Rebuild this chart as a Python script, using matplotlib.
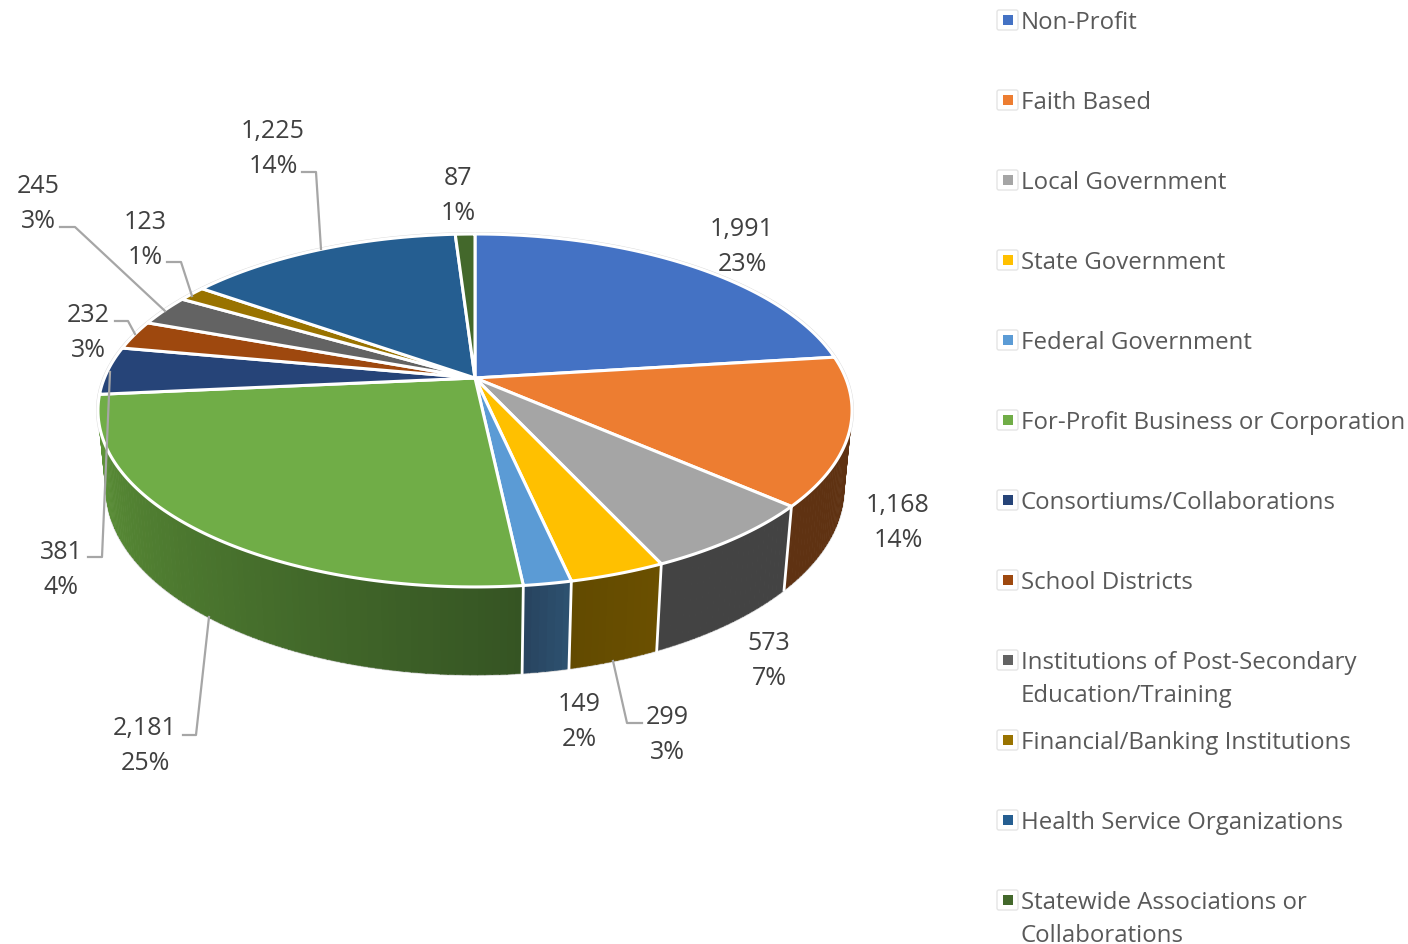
import numpy as np
import matplotlib
matplotlib.use("Agg")
import matplotlib.pyplot as plt
from matplotlib.patches import FancyBboxPatch, Rectangle

categories = ["Non-Profit", "Faith Based", "Local Government", "State Government",
              "Federal Government", "For-Profit Business or Corporation",
              "Consortiums/Collaborations", "School Districts",
              "Institutions of Post-Secondary\nEducation/Training",
              "Financial/Banking Institutions", "Health Service Organizations",
              "Statewide Associations or\nCollaborations"]
values = [1991, 1168, 573, 299, 149, 2181, 381, 232, 245, 123, 1225, 87]
percents = [23, 14, 7, 3, 2, 25, 4, 3, 3, 1, 14, 1]

top_colors = ["#4472C4", "#ED7D31", "#A5A5A5", "#FFC000", "#5B9BD5", "#70AD47",
              "#264478", "#9E480E", "#636363", "#997300", "#255E91", "#43682B"]
wall_colors = {1: ("#5F3212", "#5F3212"), 2: ("#434343", "#434343"),
               3: ("#6B5000", "#624A00"), 4: ("#2E5270", "#27435F"),
               5: ("#355423", "#5F9639")}

# label centres and leader lines, in pixels
label_pos = [(742, 247), (898, 523), (769, 661), (667, 735), (579, 722), (145, 746),
             (61, 570), (88, 333), (38, 204), (145, 240), (273, 149), (458, 196)]
leaders = [[(209, 618), (196, 736), (183, 736)],
           [(110, 373), (102, 558), (88, 558)],
           [(135, 335), (128, 322), (115, 322)],
           [(165, 312), (75, 228), (60, 228)],
           [(192, 297), (181, 263), (167, 263)],
           [(321, 250), (316, 173), (302, 173)],
           [(613, 662), (627, 724), (642, 724)]]

# perspective of the pie, fitted to the picture
cx, cy = 475, 379
a, b, k = 370.6, 170.5, 0.184
depth_y, depth_w = 78, 0.021


def project(theta, z=0.0):
    u, v = np.sin(theta), np.cos(theta)
    w = 1 + k * v + depth_w * z
    return cx + a * u / w, cy - (b * v - depth_y * z) / w


fig = plt.figure(figsize=(14.08, 9.45), dpi=100)
ax = fig.add_axes([0, 0, 1, 1])
ax.set_xlim(0, 1408)
ax.set_ylim(945, 0)
ax.axis("off")
plt.rcParams["font.family"] = ["Open Sans", "DejaVu Sans"]

edges = np.cumsum([0] + values) / sum(values) * 2 * np.pi

# thin halo round the disc and the wall
ring = np.linspace(0, 2 * np.pi, 400)
ax.plot(*project(ring), color="#D9D9D9", lw=2.8, zorder=1)
front = np.linspace(edges[1], edges[6], 300)
ax.plot(*project(front, 1), color="#D9D9D9", lw=1.6, zorder=1)

# walls, shaded along the arc
for i, (c_a, c_b) in wall_colors.items():
    n = max(int((edges[i + 1] - edges[i]) * 60), 2)
    t = np.linspace(edges[i], edges[i + 1], n + 1)
    c0 = np.array(matplotlib.colors.to_rgb(c_a))
    c1 = np.array(matplotlib.colors.to_rgb(c_b))
    for j in range(n):
        tt = np.linspace(t[j], t[j + 1] + 0.002, 4)
        xt, yt = project(tt)
        xb, yb = project(tt[::-1], 1)
        col = c0 + (c1 - c0) * (j + 0.5) / n
        ax.fill(np.r_[xt, xb], np.r_[yt, yb], color=col, lw=0.4, zorder=2)
for i in range(2, 6):
    x0, y0 = project(edges[i])
    x1, y1 = project(edges[i], 1)
    ax.plot([x0, x1], [y0, y1], color="white", lw=2.0, zorder=3)

# top face
for i in range(len(values)):
    t = np.linspace(edges[i], edges[i + 1], 120)
    x, y = project(t)
    ax.fill(np.r_[cx, x], np.r_[cy, y], facecolor=top_colors[i], edgecolor="white",
            lw=2.2, joinstyle="round", zorder=4)

for path in leaders:
    xs, ys = zip(*path)
    ax.plot(xs, ys, color="#A6A6A6", lw=1.6, zorder=5)

for (x, y), v, p in zip(label_pos, values, percents):
    ax.text(x, y, f"{v:,}\n{p}%", ha="center", va="center", fontsize=18,
            color="#404040", linespacing=1.5, zorder=6)

# legend
for i, name in enumerate(categories):
    y = 21 + 80 * i
    ax.add_patch(FancyBboxPatch((997, y - 10), 21, 20, boxstyle="round,pad=0,rounding_size=2",
                                facecolor="white", edgecolor="#E4E4E4", lw=1))
    ax.add_patch(Rectangle((1003, y - 5), 10, 10, facecolor=top_colors[i], edgecolor="none"))
    ax.text(1021, y - 10, name, ha="left", va="top", fontsize=17.25, color="#595959",
            linespacing=1.52)

fig.savefig("out.png", dpi=100, facecolor="white")
